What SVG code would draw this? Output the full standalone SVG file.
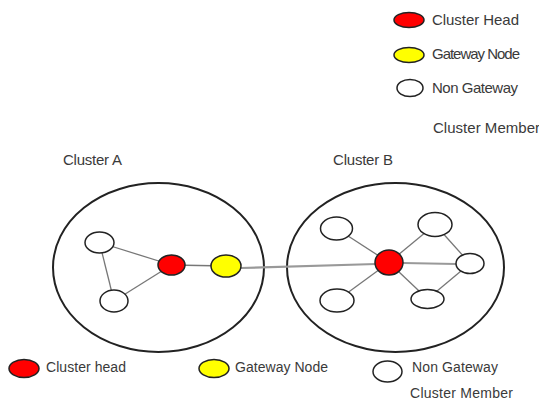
<svg xmlns="http://www.w3.org/2000/svg" width="539" height="404" viewBox="0 0 539 404">
  <style>
    .lbl { font-family: "Liberation Sans", Arial, sans-serif; font-size: 15px; fill: #3a3a3a; }
    .sm { font-size: 14px; }
    .cluster { fill: none; stroke: #222; stroke-width: 2; }
    .head { fill: #ff0000; stroke: #222; stroke-width: 1.5; }
    .gw { fill: #ffff00; stroke: #222; stroke-width: 1.5; }
    .mem { fill: #fff; stroke: #222; stroke-width: 1.5; }
    .link { stroke: #777; stroke-width: 1.3; fill: none; }
    .trunk { stroke: #999; stroke-width: 2.2; fill: none; }
  </style>

  <!-- key, top right -->
  <g id="legend-top">
    <ellipse class="head" cx="409" cy="20" rx="15" ry="7.5"/>
    <text class="lbl" x="432" y="25" textLength="87">Cluster Head</text>
    <ellipse class="gw" cx="409" cy="55" rx="15" ry="7.5"/>
    <text class="lbl" x="432" y="59" textLength="88">Gateway Node</text>
    <ellipse class="mem" cx="410" cy="88" rx="13" ry="8.5"/>
    <text class="lbl" x="432" y="93" textLength="86">Non Gateway</text>
    <text class="lbl" x="433" y="133" textLength="107">Cluster Member</text>
  </g>

  <!-- cluster boundaries -->
  <g id="cluster-a">
    <text class="lbl" x="63" y="165" textLength="59">Cluster A</text>
    <ellipse class="cluster" cx="158.5" cy="267.5" rx="105.5" ry="84.5"/>
  </g>
  <g id="cluster-b">
    <text class="lbl" x="333" y="165" textLength="60">Cluster B</text>
    <ellipse class="cluster" cx="395.5" cy="267.5" rx="108.5" ry="84.5"/>
  </g>

  <!-- links -->
  <g id="connectors">
    <line class="link" x1="99.5" y1="242.5" x2="171.5" y2="265"/>
    <line class="link" x1="114" y1="301" x2="171.5" y2="265"/>
    <line class="link" x1="99.5" y1="242.5" x2="114" y2="301"/>
    <line class="link" x1="171.5" y1="265" x2="226" y2="266"/>
    <line class="trunk" x1="241" y1="268" x2="376" y2="264"/>
    <line class="link" x1="389" y1="262.5" x2="336.5" y2="228.5"/>
    <line class="link" x1="389" y1="262.5" x2="435" y2="224.5"/>
    <line class="trunk" x1="403" y1="263" x2="456" y2="264"/>
    <line class="link" x1="389" y1="262.5" x2="337" y2="300.5"/>
    <line class="link" x1="389" y1="262.5" x2="427.5" y2="299"/>
    <line class="link" x1="435" y1="224.5" x2="470" y2="263.5"/>
    <line class="link" x1="470" y1="263.5" x2="427.5" y2="299"/>
  </g>

  <!-- cluster A nodes -->
  <g id="a-member-1"><ellipse class="mem" cx="99.5" cy="242.5" rx="14.5" ry="10.5"/></g>
  <g id="a-member-2"><ellipse class="mem" cx="114" cy="301" rx="14" ry="11"/></g>
  <g id="a-head"><ellipse class="head" cx="171.5" cy="265" rx="13.5" ry="10"/></g>
  <g id="a-gateway"><ellipse class="gw" cx="226" cy="266" rx="15" ry="11"/></g>

  <!-- cluster B nodes -->
  <g id="b-member-1"><ellipse class="mem" cx="336.5" cy="228.5" rx="16" ry="11.5"/></g>
  <g id="b-member-2"><ellipse class="mem" cx="435" cy="224.5" rx="17" ry="12"/></g>
  <g id="b-member-3"><ellipse class="mem" cx="470" cy="263.5" rx="14" ry="10"/></g>
  <g id="b-member-4"><ellipse class="mem" cx="337" cy="300.5" rx="17" ry="11.5"/></g>
  <g id="b-member-5"><ellipse class="mem" cx="427.5" cy="299" rx="16.5" ry="9.5"/></g>
  <g id="b-head"><ellipse class="head" cx="389" cy="262.5" rx="14" ry="12.5"/></g>

  <!-- key, bottom -->
  <g id="legend-bottom">
    <ellipse class="head" cx="24" cy="368.5" rx="15" ry="9"/>
    <text class="lbl sm" x="46" y="372" textLength="80">Cluster head</text>
    <ellipse class="gw" cx="214" cy="368.5" rx="15" ry="9"/>
    <text class="lbl sm" x="235" y="372" textLength="93">Gateway Node</text>
    <ellipse class="mem" cx="387.5" cy="371.5" rx="14.5" ry="10.5"/>
    <text class="lbl sm" x="412" y="372" textLength="86">Non Gateway</text>
    <text class="lbl sm" x="410" y="398" textLength="103">Cluster Member</text>
  </g>
</svg>
